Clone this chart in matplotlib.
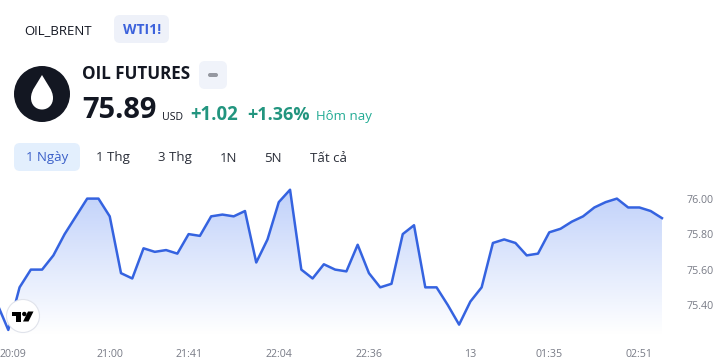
import numpy as np
import matplotlib
matplotlib.use('Agg')
import matplotlib.pyplot as plt
from matplotlib.colors import LinearSegmentedColormap
from matplotlib.patches import Circle, FancyBboxPatch, PathPatch, Polygon, Rectangle
from matplotlib.path import Path
from matplotlib.transforms import ScaledTranslation

plt.rcParams['font.family'] = ['Open Sans', 'DejaVu Sans']

# one point per time step, first one sits left of the picture edge
prices = [75.41, 75.26, 75.50, 75.60, 75.60, 75.68, 75.80, 75.90, 76.00, 76.00,
          75.90, 75.58, 75.55, 75.72, 75.70, 75.71, 75.69, 75.80, 75.79, 75.90,
          75.91, 75.90, 75.93, 75.64, 75.77, 75.98, 76.05, 75.60, 75.55, 75.63,
          75.60, 75.59, 75.74, 75.58, 75.50, 75.52, 75.80, 75.85, 75.50, 75.50,
          75.40, 75.29, 75.42, 75.50, 75.75, 75.77, 75.75, 75.68, 75.69, 75.81,
          75.83, 75.87, 75.90, 75.95, 75.98, 76.00, 75.95, 75.95, 75.93, 75.89]
x_tick_index = [1, 10, 17, 25, 33, 42, 49, 57]
x_tick_labels = ['20:09', '21:00', '21:41', '22:04', '22:36', '13', '01:35', '02:51']
y_ticks = [75.40, 75.60, 75.80, 76.00]
tabs = ['1 Ngày', '1 Thg', '3 Thg', '1N', '5N', 'Tất cả']
tab_x = [47.5, 113, 175, 228, 273, 328.5]

W, H = 723, 361
fig = plt.figure(figsize=(W / 100, H / 100), dpi=100, facecolor='white')

# chart area, pixels of the picture: x 0-680, y 180-334
left, right, top, bottom = 0, 680, 180, 334
ax = fig.add_axes([left / W, 1 - bottom / H, (right - left) / W, (bottom - top) / H])
step = 11.27
x0 = 8.3 - step
ax.set_xlim((left - x0) / step, (right - x0) / step)
ax.set_ylim(76 - (bottom - 198.6) / 177.5, 76 - (top - 198.6) / 177.5)

xs = np.arange(len(prices))
base = ax.get_ylim()[0]
area = ax.fill_between(xs, prices, base, color='none', lw=0)
cmap = LinearSegmentedColormap.from_list('fade', ['#c0d1fa', '#ffffff'])
im = ax.imshow(np.linspace(0, 1, 256).reshape(-1, 1), cmap=cmap, aspect='auto',
               extent=[xs[0], xs[-1], base, max(prices)], origin='upper', zorder=1)
ax.set_xlim((left - x0) / step, (right - x0) / step)
ax.set_ylim(76 - (bottom - 198.6) / 177.5, 76 - (top - 198.6) / 177.5)
im.set_clip_path(area.get_paths()[0], transform=ax.transData)
ax.plot(xs, prices, color='#3563e0', lw=1.8, zorder=2, solid_joinstyle='round')

ax.set_xticks(x_tick_index)
ax.set_xticklabels(x_tick_labels)
ax.yaxis.tick_right()
ax.set_yticks(y_ticks)
ax.set_yticklabels(['%.2f' % v for v in y_ticks])
ax.tick_params(length=0, labelsize=7.7, colors='#787b86')
ax.tick_params(axis='x', pad=11)
ax.tick_params(axis='y', pad=5)
for s in ax.spines.values():
    s.set_visible(False)
# first time label is pushed in from the edge
first = ax.get_xticklabels()[0]
first.set_transform(first.get_transform() + ScaledTranslation(3.5 / 72, 0, fig.dpi_scale_trans))

# header and logos, in picture pixels
ov = fig.add_axes([0, 0, 1, 1], facecolor='none')
ov.set_xlim(0, W)
ov.set_ylim(H, 0)
ov.axis('off')


def box(x1, y1, x2, y2, color, r=6):
    ov.add_patch(FancyBboxPatch((x1 + r, y1 + r), x2 - x1 - 2 * r, y2 - y1 - 2 * r,
                                boxstyle='round,pad=%d,rounding_size=%d' % (r, r),
                                fc=color, ec='none'))


def label(x, y, s, size, color='#131722', weight='normal', ha='left'):
    ov.text(x, y, s, fontsize=size * 0.72, color=color, fontweight=weight, ha=ha, va='center')


box(114, 15, 169, 43, '#eef1f9')
label(24, 30.5, 'OIL_BRENT', 13.2)
label(123, 29.5, 'WTI1!', 14, '#3c62dc', 'bold')

ov.add_patch(Circle((42, 94), 28, fc='#131722', ec='none'))
drop = Path([(42, 75), (47, 84), (53, 90), (53, 98), (53, 105), (48, 109.5), (42, 109.5),
             (36, 109.5), (31, 105), (31, 98), (31, 90), (37, 84), (42, 75)],
            [Path.MOVETO] + [Path.CURVE4] * 12)
ov.add_patch(PathPatch(drop, fc='white', ec='none'))

label(82, 74, 'OIL FUTURES', 17, weight='bold')
box(199, 61, 227, 89, '#f0f3fa')
box(208, 73, 218, 77, '#9598a1', r=2)

label(82.5, 110.5, '75.89', 29, weight='bold')
label(162, 118, 'USD', 10.5)
label(190.5, 115, '+1.02', 18.6, '#22957f', 'bold')
label(247.5, 115, '+1.36%', 18, '#22957f', 'bold')
label(316, 116.5, 'Hôm nay', 13.2, '#22ab94')

box(14, 143, 80, 171, '#e3effd')
for i in range(len(tabs)):
    label(tab_x[i], 158, tabs[i], 13.2, '#3a5fc8' if i == 0 else '#2a2e39', ha='center')

# tradingview badge
ov.add_patch(Circle((23, 316), 16.5, fc='white', ec='#e0e3eb', lw=0.8))
ov.add_patch(Rectangle((12, 311.5), 9, 4.5, fc='#000000', ec='none'))
ov.add_patch(Rectangle((16, 311.5), 5, 10, fc='#000000', ec='none'))
ov.add_patch(Circle((24.3, 314), 2.2, fc='#000000', ec='none'))
ov.add_patch(Polygon([(28, 311.5), (33.5, 311.5), (28.5, 321.5), (23, 321.5)], fc='#000000', ec='none'))

fig.savefig('out.png', dpi=100)
